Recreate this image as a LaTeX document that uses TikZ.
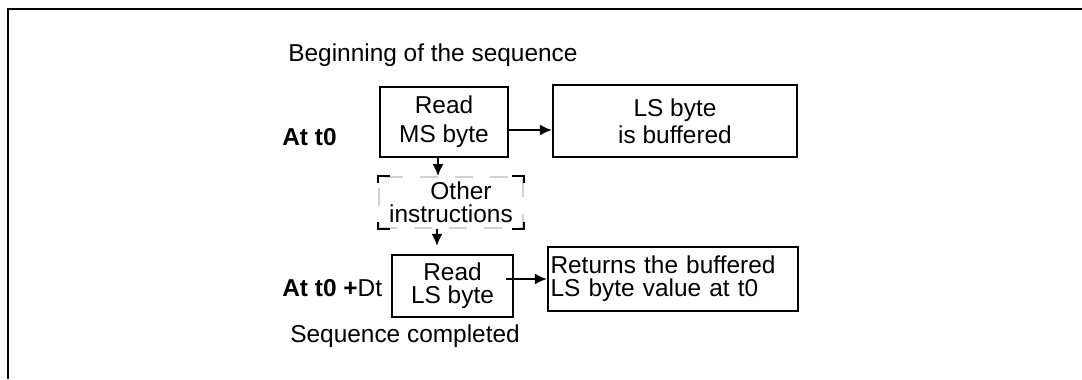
\documentclass[tikz,border=0pt]{standalone}
\usepackage{fontspec}
\setmainfont{Liberation Sans}
\usetikzlibrary{arrows.meta}
\tikzset{
  txt/.style={inner sep=0pt,font=\fontsize{13.9}{13.1}\selectfont},
  stepbox/.style={txt,draw,line width=1.2pt,align=center},
  otherbox/.style={txt,draw=gray!35,line width=1pt,dash pattern=on 0.36cm off 0.34cm,align=center},
  corner/.style={line width=1.2pt},
  arr/.style={-{Latex[length=2.4mm,width=2.2mm]},line width=1.2pt}
}
\begin{document}
\begin{tikzpicture}[x=0.02cm,y=-0.02cm]
      \useasboundingbox (0,0) rectangle (1082,379);
      \draw[line width=1.7pt] (8,379) |- (1082,9);
      \draw
        (288,61) node[txt,anchor=base west] (beg){Beginning of the sequence}
        (282,137) node[txt,anchor=west] (atz){\textbf{At t0}}
        (444,122) node[stepbox,minimum width=2.56cm,minimum height=1.4cm] (msb){Read\\[3.4pt]MS byte}
        (675,121) node[stepbox,minimum width=4.88cm,minimum height=1.44cm] (buf){LS byte\\[2.3pt]is buffered}
        (451,202.5) node[otherbox,minimum width=2.88cm,minimum height=1.02cm] (oth){\hspace{0.4cm}Other\\instructions}
        (452.5,286) node[stepbox,minimum width=2.42cm,minimum height=1.24cm] (lsb){Read\\LS byte}
        (673,279) node[stepbox,minimum width=5cm,minimum height=1.28cm,align=left,text width=4.9cm] (ret){Returns the buffered\\LS byte value at t0}
        (282,288) node[txt,anchor=west] (att){\textbf{At t0 +}Dt}
        (290,342) node[txt,anchor=base west] (seq){Sequence completed};
      \begin{scope}[corner]
        \draw ([xshift=0.24cm]oth.north west) -| ([yshift=-0.14cm]oth.north west);
        \draw ([xshift=-0.24cm]oth.north east) -| ([yshift=-0.14cm]oth.north east);
        \draw ([xshift=0.24cm]oth.south west) -| ([yshift=0.14cm]oth.south west);
        \draw ([xshift=-0.24cm]oth.south east) -| ([yshift=0.14cm]oth.south east);
      \end{scope}
      \begin{scope}[arr]
        \draw ([yshift=-0.16cm]msb.east) -- ([yshift=-0.16cm]msb.east -| buf.west);
        \draw ([xshift=-0.12cm]msb.south) -- ([xshift=-0.12cm]msb.south |- oth.north);
        \draw[shorten >=0.16cm] ([xshift=-0.28cm]oth.south) -- ([xshift=-0.28cm]oth.south |- lsb.north);
        \draw ([xshift=-0.16cm]lsb.east |- ret.west) -- (ret.west);
      \end{scope}
    \end{tikzpicture}
\end{document}
